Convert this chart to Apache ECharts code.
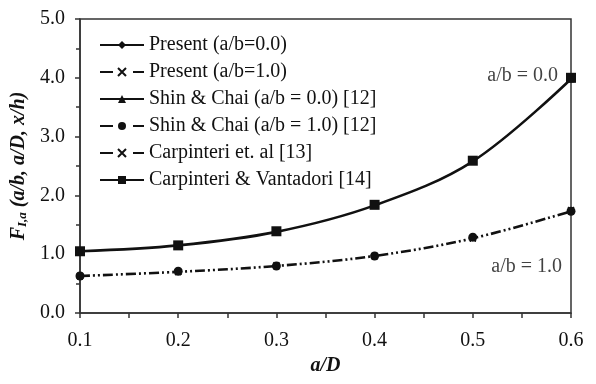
<!DOCTYPE html>
<html>
<head>
<meta charset="utf-8">
<script src="https://cdn.jsdelivr.net/npm/echarts@6/dist/echarts.min.js"></script>
<style>
html,body{margin:0;padding:0;background:#fff;}
#chart{width:596px;height:384px;}
</style>
</head>
<body>
<div id="chart"></div>
<script>
// a/D values
var aD = [0.1, 0.2, 0.3, 0.4, 0.5, 0.6];
// a/b = 0.0
var present00 = [1.05, 1.15, 1.38, 1.83, 2.58, 3.98];
var shin00 = [1.05, 1.15, 1.38, 1.83, 2.58, 3.98];
var carpVant = [1.05, 1.15, 1.39, 1.84, 2.59, 4.0];
// a/b = 1.0
var present10 = [0.63, 0.70, 0.80, 0.97, 1.27, 1.73];
var shin10 = [0.63, 0.71, 0.80, 0.97, 1.29, 1.73];
var carpEtAl = [0.63, 0.70, 0.81, 0.97, 1.27, 1.75];

var yTicks = ['0.0', '1.0', '2.0', '3.0', '4.0', '5.0'];

var font = '"Liberation Serif", "DejaVu Serif", serif';
var ink = '#111';
var cross = 'path://M-1,-1L1,1M1,-1L-1,1';

function pts(vals){
    return aD.map(function(x, i){ return [x, vals[i]]; });
}

// 画线（或只画点）的公共设置
function mkSeries(name, vals, symbol, size, lineType, showLine){
    return {
        name: name,
        type: 'line',
        data: pts(vals),
        smooth: 0.35,
        symbol: symbol,
        symbolSize: size,
        itemStyle: { color: ink, borderColor: ink, borderWidth: symbol === cross ? 1.6 : 0 },
        lineStyle: { color: ink, width: showLine ? 2.6 : 0, type: lineType },
        z: showLine ? 2 : 3
    };
}

var dashDot = [10, 3, 2, 3, 2, 3];
var legendDash = [13, 20];

var chart = echarts.init(document.getElementById('chart'));
chart.setOption({
    animation: false,
    backgroundColor: '#fff',
    textStyle: { fontFamily: font },
    grid: {
        left: 80, right: 25, top: 19, bottom: 71,
        show: true, borderColor: '#333', borderWidth: 1.5
    },
    legend: {
        orient: 'vertical',
        left: 99, top: 35, padding: 0,
        itemWidth: 44, itemHeight: 10, itemGap: 7,
        textStyle: { fontFamily: font, fontSize: 20, color: ink },
        data: [
            { name: 'Present (a/b=0.0)', lineStyle: { width: 2, type: 'solid' } },
            { name: 'Present (a/b=1.0)', lineStyle: { width: 2, type: legendDash } },
            { name: 'Shin & Chai (a/b = 0.0) [12]', lineStyle: { width: 2, type: 'solid' } },
            { name: 'Shin & Chai (a/b = 1.0) [12]', lineStyle: { width: 2, type: legendDash } },
            { name: 'Carpinteri et. al [13]', lineStyle: { width: 2, type: legendDash } },
            { name: 'Carpinteri & Vantadori [14]', lineStyle: { width: 2, type: 'solid' } }
        ]
    },
    xAxis: {
        type: 'value',
        min: 0.1, max: 0.6, interval: 0.1,
        name: 'a/D',
        nameLocation: 'middle',
        nameGap: 42,
        nameTextStyle: { fontFamily: font, fontSize: 20, fontStyle: 'italic', fontWeight: 'bold', color: ink },
        axisLine: { onZero: false, lineStyle: { color: '#333', width: 1.5 } },
        axisTick: { length: 5, lineStyle: { color: '#333', width: 1.5 } },
        minorTick: { show: true, splitNumber: 2, length: 5, lineStyle: { color: '#333', width: 1.5 } },
        splitLine: { show: false },
        axisLabel: {
            fontFamily: font, fontSize: 20, color: ink, margin: 18,
            formatter: function(v){ return v.toFixed(1); }
        }
    },
    yAxis: {
        type: 'value',
        min: 0, max: 5, interval: 1,
        name: '{f|F}{s|I,a}{f| (a/b, a/D, x/h)}',
        nameLocation: 'middle',
        nameGap: 44,
        nameTextStyle: {
            rich: {
                f: { fontFamily: font, fontSize: 20, fontStyle: 'italic', fontWeight: 'bold', color: ink },
                s: { fontFamily: font, fontSize: 13, fontStyle: 'italic', fontWeight: 'bold', color: ink, verticalAlign: 'bottom', padding: [8, 0, 0, 0] }
            }
        },
        axisLine: { show: true, lineStyle: { color: '#333', width: 1.5 } },
        axisTick: { show: true, length: 5, lineStyle: { color: '#333', width: 1.5 } },
        minorTick: { show: true, splitNumber: 2, length: 4, lineStyle: { color: '#333', width: 1.5 } },
        splitLine: { show: false },
        axisLabel: {
            fontFamily: font, fontSize: 20, color: ink, margin: 15,
            formatter: function(v){ return yTicks[Math.round(v)]; }
        }
    },
    series: [
        mkSeries('Present (a/b=0.0)', present00, 'diamond', 7, 'solid', true),
        mkSeries('Present (a/b=1.0)', present10, cross, 6, dashDot, true),
        mkSeries('Shin & Chai (a/b = 0.0) [12]', shin00, 'triangle', 7, 'solid', false),
        mkSeries('Shin & Chai (a/b = 1.0) [12]', shin10, 'circle', 9, 'solid', false),
        mkSeries('Carpinteri et. al [13]', carpEtAl, cross, 6, 'solid', false),
        mkSeries('Carpinteri & Vantadori [14]', carpVant, 'rect', 10, 'solid', false),
        {
            type: 'scatter',
            silent: true,
            symbolSize: 0,
            data: [[0.6, 4.0]],
            label: {
                show: true, position: 'left', distance: 13, offset: [0, -2],
                formatter: 'a/b = 0.0',
                fontFamily: font, fontSize: 20, color: ink
            }
        },
        {
            type: 'scatter',
            silent: true,
            symbolSize: 0,
            data: [[0.6, 0.78]],
            label: {
                show: true, position: 'left', distance: 9,
                formatter: 'a/b = 1.0',
                fontFamily: font, fontSize: 20, color: ink
            }
        }
    ]
});
</script>
</body>
</html>
